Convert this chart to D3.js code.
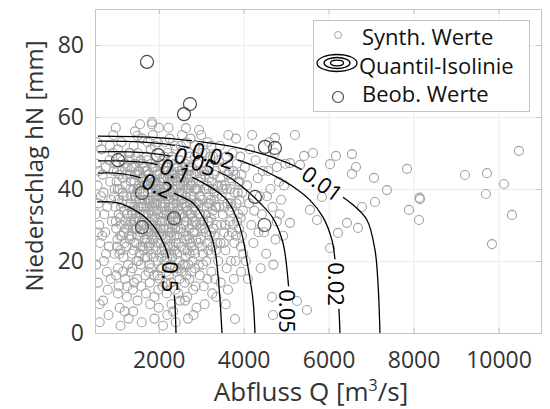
<!DOCTYPE html>
<html>
<head>
<meta charset="utf-8">
<script src="https://cdn.jsdelivr.net/npm/d3@7/dist/d3.min.js"></script>
<style>
  body { margin: 0; background: #fff; }
  text { font-family: "Open Sans", sans-serif; }
</style>
</head>
<body>
<div id="chart"></div>
<script>
// ticks
var xTicks = [2000, 4000, 6000, 8000, 10000];
var yTicks = [0, 20, 40, 60, 80];

// observed events [Q, hN]
var observed = [
  [1724, 75.3], [2736, 63.6], [2595, 60.8], [1041, 48.0], [1983, 49.4],
  [1606, 38.9], [1606, 29.4], [2360, 31.9], [4266, 37.8], [4490, 30.0],
  [4502, 51.7], [4737, 51.4]
];

// synthetic values [Q, hN]
var synth = [
  [540,47],[560,41],[580,36],[600,30],[620,25],[530,19],[570,14],[610,8],[650,51],[680,44],[700,39],[720,33],[740,28],[760,22],[780,17],[800,12],[820,5],[840,48],[860,42],[880,37],[900,31],[550,53],[590,45],[640,38],[670,27],[710,20],[750,46],[790,35],[830,24],[870,15],[690,9],[610,3],[850,52],[520,33],[580,28],
  [920,50],[940,45],[960,40],[980,35],[1000,29],[1020,24],[1040,18],[1060,13],[1080,7],[1100,2],[930,55],[970,47],[1010,42],[1050,37],[1090,32],[1130,27],[1170,21],[1210,15],[1250,10],[1290,4],[950,38],[990,31],[1030,26],[1070,44],[1110,49],[1150,39],[1190,34],[1230,29],[1270,46],[1120,53],[960,22],[1000,16],[1040,11],[1160,43],[1200,47],[1240,24],[1280,19],[1140,36],[1180,28],[1220,41],[1260,33],[1300,50],[1080,40],[1120,30],[1160,17],[1200,6],[1260,13],[1040,51],[990,57],[1100,23],
  [1310,48],[1320,44],[1330,40],[1340,36],[1350,31],[1360,27],[1370,22],[1380,18],[1390,12],[1400,6],[1410,52],[1420,46],[1430,42],[1440,38],[1450,34],[1460,29],[1470,25],[1480,20],[1490,15],[1500,9],[1510,50],[1520,45],[1530,41],[1540,37],[1550,33],[1560,28],[1570,24],[1580,19],[1590,13],[1600,3],[1610,54],[1620,47],[1630,43],[1640,39],[1650,35],[1660,30],[1670,26],[1680,21],[1690,16],[1700,11],[1330,50],[1370,46],[1410,35],[1450,44],[1490,39],[1530,31],[1570,48],[1610,36],[1650,42],[1690,33],[1350,38],[1390,29],[1430,25],[1470,32],[1510,27],[1550,22],[1590,43],[1630,28],[1670,37],[1340,17],[1420,14],[1500,40],[1580,35],[1660,46],[1440,56],[1560,58],[1380,33],[1460,49],[1540,45],[1620,24],
  [1710,49],[1720,45],[1730,41],[1740,37],[1750,33],[1760,28],[1770,24],[1780,19],[1790,14],[1800,8],[1810,51],[1820,47],[1830,43],[1840,39],[1850,35],[1860,30],[1870,26],[1880,21],[1890,16],[1900,4],[1910,52],[1920,46],[1930,42],[1940,38],[1950,34],[1960,29],[1970,25],[1980,20],[1990,12],[2000,7],[2010,50],[2020,44],[2030,40],[2040,36],[2050,32],[2060,27],[2070,23],[2080,18],[2090,13],[2100,2],[1730,48],[1770,44],[1810,40],[1850,46],[1890,42],[1930,36],[1970,45],[2010,38],[2050,43],[2090,35],[1750,39],[1790,34],[1830,30],[1870,37],[1910,32],[1950,27],[1990,41],[2030,31],[2070,39],[1720,29],[1800,25],[1880,34],[1960,44],[2040,29],[1740,53],[1860,55],[1980,53],[2080,48],[1820,22],[1940,23],[2060,21],[1760,17],[1900,10],[2020,15],[1840,58],[2000,57],[1780,36],[1920,40],[2040,47],[1700,42],
  [2110,47],[2120,43],[2130,39],[2140,35],[2150,31],[2160,26],[2170,22],[2180,17],[2190,11],[2200,5],[2210,50],[2220,45],[2230,41],[2240,37],[2250,33],[2260,28],[2270,24],[2280,19],[2290,14],[2300,8],[2310,49],[2320,44],[2330,40],[2340,36],[2350,32],[2360,27],[2370,23],[2380,18],[2390,12],[2400,3],[2410,51],[2420,46],[2430,42],[2440,38],[2450,34],[2460,29],[2470,25],[2480,20],[2490,15],[2500,9],[2130,49],[2170,45],[2210,38],[2250,42],[2290,39],[2330,30],[2370,47],[2410,36],[2450,41],[2490,33],[2150,36],[2190,33],[2230,29],[2270,35],[2310,28],[2350,24],[2390,43],[2430,27],[2470,37],[2120,24],[2200,21],[2280,31],[2360,38],[2440,22],[2140,53],[2260,54],[2380,52],[2480,48],[2160,14],[2240,16],[2320,21],[2420,17],[2460,11],[2340,6],[2230,57],[2180,40],[2300,45],[2400,31],[2500,44],[2110,29],
  [2510,48],[2530,43],[2550,39],[2570,35],[2590,30],[2610,26],[2630,21],[2650,16],[2670,10],[2690,4],[2710,50],[2730,45],[2750,41],[2770,37],[2790,32],[2810,28],[2830,23],[2850,18],[2870,13],[2890,7],[2520,52],[2560,46],[2600,42],[2640,38],[2680,34],[2720,29],[2760,25],[2800,20],[2840,44],[2880,40],[2540,33],[2580,28],[2620,47],[2660,44],[2700,40],[2740,36],[2780,46],[2820,38],[2860,34],[2900,30],[2530,24],[2570,19],[2610,14],[2650,31],[2690,27],[2730,22],[2770,17],[2810,12],[2850,49],[2890,45],[2550,55],[2650,53],[2750,54],[2850,52],[2600,36],[2700,46],[2800,42],[2580,41],[2680,23],[2780,30],[2880,26],[2520,37],[2620,9],[2720,15],[2820,5],[2760,33],[2540,45],[2640,27],[2740,49],[2840,35],
  [2920,47],[2940,42],[2960,38],[2980,33],[3000,29],[3020,24],[3040,19],[3060,13],[3080,8],[3100,50],[3120,45],[3140,41],[3160,36],[3180,31],[3200,27],[3220,22],[3240,17],[3260,11],[3280,49],[3300,44],[3320,39],[3340,35],[3360,30],[3380,25],[3400,20],[2950,51],[3010,45],[3070,40],[3130,35],[3190,46],[3250,42],[3310,33],[3370,38],[2930,36],[2990,26],[3050,31],[3110,28],[3170,23],[3230,37],[3290,29],[3350,45],[2970,16],[3030,50],[3090,44],[3150,53],[3210,49],[3270,34],[3330,15],[3390,41],[3000,55],[3120,20],[3240,52],[3360,10],[3060,35],[3180,40],
  [3420,48],[3450,43],[3480,38],[3510,33],[3540,28],[3570,23],[3600,18],[3630,12],[3660,45],[3690,40],[3720,35],[3750,30],[3780,25],[3810,20],[3840,47],[3870,42],[3900,37],[3930,32],[3960,27],[3990,22],[3440,52],[3500,46],[3560,41],[3620,36],[3680,31],[3740,50],[3800,44],[3860,39],[3920,49],[3980,34],[3470,30],[3530,25],[3590,49],[3650,27],[3710,43],[3770,15],[3830,36],[3890,29],[3950,44],[3460,14],[3580,8],[3700,20],[3820,54],[3940,17],[3640,55],
  [4030,46],[4080,41],[4130,36],[4180,30],[4230,25],[4280,48],[4330,43],[4380,38],[4430,33],[4480,28],[4530,22],[4580,45],[4630,40],[4680,35],[4730,50],[4780,31],[4830,42],[4880,37],[4930,27],[4980,47],[4050,20],[4150,51],[4250,34],[4350,28],[4450,45],[4550,38],[4650,48],[4750,26],[4850,33],[4950,41],[4100,15],[4400,18],[4700,19],[4200,55],[4600,53],
  [5208,55],[4737,54.2],[5420,49.2],[5632,50],[6173,49.2],[6032,46.9],[6550,49.7],[6644,46.1],[6550,44.2],[7068,43.1],[7374,39.7],[7091,36.4],[6785,35],[5844,37.8],[5326,46.7],[5090,47.2],[4784,46.1],[6432,30.6],[6691,29.2],[6220,27.8],[6032,23.6],[5726,31.4],[5561,34.2],[5090,30.6],[5255,8.9],[5490,6.4],[4690,5],[3796,3.9],[4667,10],
  [7845,45.6],[7892,34.2],[8151,37.2],[8140,37.6],[8127,31.4],[9210,43.9],[9728,44.4],[9704,38.6],[10128,41.4],[10316,32.8],[9846,24.7],[10481,50.6],
  [1842,58.6],[2642,56.9],[2950,56.4],[1500,54.8]
];

// more synthetic values in the dense core [Q, hN]
var synthCore = [
  [1015,45],[1055,33],[1095,27],[1135,45],[1175,38],[1215,31],[1255,38],[1295,27],[1035,40],[1075,22],[1115,35],[1155,48],[1195,25],[1235,44],[1275,30],
  [1315,35],[1345,42],[1375,30],[1405,40],[1435,31],[1465,37],[1495,44],[1525,35],[1555,40],[1585,30],[1615,42],[1645,33],[1675,41],[1695,25],[1325,26],[1365,34],[1405,23],[1445,47],[1485,29],[1525,20],[1565,37],[1605,31],[1645,23],[1685,45],
  [1715,35],[1745,44],[1775,31],[1805,37],[1835,27],[1865,41],[1895,36],[1925,29],[1955,40],[1985,33],[2015,42],[2045,39],[2075,31],[2095,43],[1725,26],[1765,40],[1805,29],[1845,33],[1885,46],[1925,24],[1965,37],[2005,28],[2045,25],[2085,38],[1735,21],[1815,18],[1895,28],[1975,16],[2055,18],
  [2115,40],[2145,45],[2175,34],[2205,43],[2235,35],[2265,39],[2295,33],[2325,42],[2355,37],[2385,29],[2415,40],[2445,31],[2475,43],[2125,33],[2165,38],[2205,27],[2245,44],[2285,27],[2325,35],[2365,44],[2405,25],[2445,46],[2485,39],[2135,20],[2215,24],[2295,22],[2375,33],[2455,18],[2195,46],[2335,48],
  [2515,41],[2545,37],[2575,44],[2605,32],[2635,40],[2665,35],[2695,43],[2725,33],[2755,38],[2785,41],[2815,35],[2845,40],[2875,31],[2525,29],[2565,33],[2605,23],[2645,35],[2685,41],[2725,26],[2765,44],[2805,31],[2845,28],[2885,36],[2535,17],[2615,19],[2695,19],[2775,24],[2855,22],
  [2915,40],[2955,33],[2995,43],[3035,37],[3075,29],[3115,40],[3155,31],[3195,36],[3235,28],[3275,40],[3315,27],[3355,35],[2935,25],[2985,38],[3025,30],[3065,45],[3105,33],[3145,25],[3185,43],[3225,32],[3265,24],[3305,37],[3345,23],[2945,19],[3045,22],[3145,15],
  [3425,35],[3485,41],[3545,35],[3605,40],[3665,34],[3725,28],[3785,39],[3845,31],[3905,42],[3965,39],[3455,25],[3515,40],[3575,30],[3635,44],[3695,36],[3755,45],[3815,27],[3875,33],[3935,24]
];

// quantile isolines [Q, hN]
var iso050 = [[547,36.4],[853,36.4],[1136,35.8],[1395,34.4],[1677,32.2],[1912,29.2],[2077,25.8],[2195,22.5],[2266,18.6],[2313,14.7],[2360,11.1],[2383,7.8],[2407,0]];
var iso020 = [[571,44.4],[971,44.4],[1442,43.6],[1795,42.2],[2148,40],[2501,38.1],[2807,36.1],[3042,32.2],[3207,28.1],[3325,23.1],[3395,16.1],[3443,9.2],[3490,0]];
var iso010 = [[571,47.8],[1089,47.8],[1795,47.2],[2266,45.8],[2736,43.6],[3207,40.6],[3607,36.9],[3913,29.4],[4101,18.3],[4219,9.2],[4266,0]];
var iso005 = [[571,50.3],[1324,50.3],[2148,49.4],[2736,47.8],[3207,45.8],[3607,43.6],[4031,40],[4384,36.1],[4690,31.9],[4926,25],[5044,14.7],[5091,6.4],[5114,0]];
var iso002 = [[571,53.3],[1559,53.1],[2619,51.7],[3325,49.7],[4078,47.2],[4784,43.3],[5208,40.3],[5561,36.9],[5867,32.2],[6079,25.8],[6150,20.3],[6197,13.3],[6244,6.4],[6267,0]];
var iso001 = [[571,54.7],[1795,54.4],[2854,53.3],[3678,51.9],[4266,50.3],[4737,48.6],[5255,46.1],[5914,41.4],[6267,38.3],[6573,35.6],[6903,31.4],[7091,23.1],[7162,13.9],[7209,0]];
var isolines = [iso050, iso020, iso010, iso005, iso002, iso001];

// contour labels: text, Q, hN, angle
var isoLabels = [
  ["0.5", 2266, 15.6, 90], ["0.2", 1960, 40.8, 25], ["0.1", 2383, 45, 25],
  ["0.05", 2854, 47.5, 22], ["0.02", 3278, 49.2, 18], ["0.01", 5844, 41.4, 36],
  ["0.05", 5020, 6.1, 90], ["0.02", 6173, 13.6, 90]
];

var legendItems = ["Synth. Werte", "Quantil-Isolinie", "Beob. Werte"];

var width = 550, height = 409;
var margin = { top: 9, right: 9, bottom: 76, left: 95 };
var plotW = width - margin.left - margin.right,
    plotH = height - margin.top - margin.bottom;

var svg = d3.select("#chart").append("svg")
    .attr("width", width)
    .attr("height", height);

var x = d3.scaleLinear().domain([500, 11000]).range([margin.left, margin.left + plotW]);
var y = d3.scaleLinear().domain([0, 90]).range([margin.top + plotH, margin.top]);

var defs = svg.append("defs");
defs.append("clipPath").attr("id", "plotClip")
  .append("rect")
  .attr("x", margin.left).attr("y", margin.top)
  .attr("width", plotW).attr("height", plotH);

// grid
svg.append("g")
  .attr("transform", "translate(0," + (margin.top + plotH) + ")")
  .call(d3.axisBottom(x).tickValues(xTicks).tickSize(-plotH).tickFormat(""))
  .call(g => g.select(".domain").remove())
  .selectAll("line").attr("stroke", "#ececec");
svg.append("g")
  .attr("transform", "translate(" + margin.left + ",0)")
  .call(d3.axisLeft(y).tickValues(yTicks).tickSize(-plotW).tickFormat(""))
  .call(g => g.select(".domain").remove())
  .selectAll("line").attr("stroke", "#ececec");

var plot = svg.append("g").attr("clip-path", "url(#plotClip)");

// synthetic points
plot.append("g").selectAll("circle")
  .data(synth.concat(synthCore))
  .enter().append("circle")
  .attr("cx", d => x(d[0]))
  .attr("cy", d => y(d[1]))
  .attr("r", 4.5)
  .attr("fill", "none")
  .attr("stroke", "#a3a3a3")
  .attr("stroke-width", 1.1);

// mask to break the isolines under their labels
var mask = defs.append("mask").attr("id", "labelGaps")
  .attr("maskUnits", "userSpaceOnUse")
  .attr("x", 0).attr("y", 0).attr("width", width).attr("height", height);
mask.append("rect").attr("x", 0).attr("y", 0).attr("width", width).attr("height", height).attr("fill", "#fff");

var labelG = svg.append("g");
isoLabels.forEach(function (l) {
  var t = labelG.append("text")
    .attr("transform", "translate(" + x(l[1]) + "," + y(l[2]) + ") rotate(" + l[3] + ")")
    .attr("text-anchor", "middle")
    .attr("dy", "0.35em")
    .style("font-size", "22px")
    .attr("fill", "#000")
    .text(l[0]);
  var w = t.node().getComputedTextLength() + 6;
  mask.append("rect")
    .attr("transform", "translate(" + x(l[1]) + "," + y(l[2]) + ") rotate(" + l[3] + ")")
    .attr("x", -w / 2).attr("y", -9)
    .attr("width", w).attr("height", 18)
    .attr("fill", "#000");
});

var line = d3.line()
  .x(d => x(d[0]))
  .y(d => y(d[1]))
  .curve(d3.curveCatmullRom.alpha(0.5));

plot.append("g").attr("mask", "url(#labelGaps)")
  .selectAll("path")
  .data(isolines)
  .enter().append("path")
  .attr("d", line)
  .attr("fill", "none")
  .attr("stroke", "#000")
  .attr("stroke-width", 1.3);

// observed
plot.append("g").selectAll("circle")
  .data(observed)
  .enter().append("circle")
  .attr("cx", d => x(d[0]))
  .attr("cy", d => y(d[1]))
  .attr("r", 6.5)
  .attr("fill", "none")
  .attr("stroke", "#4a4a4a")
  .attr("stroke-width", 1.2);

labelG.raise();

// axes
var axisColor = "#c4c4c4";
var xAxis = svg.append("g")
  .attr("transform", "translate(0," + (margin.top + plotH) + ")")
  .call(d3.axisBottom(x).tickValues(xTicks).tickFormat(d3.format("d")).tickSizeInner(-5).tickSizeOuter(0).tickPadding(19));
var yAxis = svg.append("g")
  .attr("transform", "translate(" + margin.left + ",0)")
  .call(d3.axisLeft(y).tickValues(yTicks).tickFormat(d3.format("d")).tickSizeInner(-5).tickSizeOuter(0).tickPadding(11));
var xTop = svg.append("g")
  .attr("transform", "translate(0," + margin.top + ")")
  .call(d3.axisTop(x).tickValues(xTicks).tickSizeInner(-5).tickSizeOuter(0).tickFormat(""));
var yRight = svg.append("g")
  .attr("transform", "translate(" + (margin.left + plotW) + ",0)")
  .call(d3.axisRight(y).tickValues(yTicks).tickSizeInner(-5).tickSizeOuter(0).tickFormat(""));

[xAxis, yAxis, xTop, yRight].forEach(function (a) {
  a.select(".domain").attr("stroke", axisColor);
  a.selectAll(".tick line").attr("stroke", axisColor);
  a.selectAll("text")
    .style("font-size", "23px")
    .style("font-family", "'Open Sans', sans-serif")
    .attr("fill", "#333");
});

// axis labels
svg.append("text")
  .attr("x", margin.left + plotW / 2 - 7)
  .attr("y", 401)
  .attr("text-anchor", "middle")
  .style("font-size", "26px")
  .attr("fill", "#333")
  .html("Abfluss Q [m<tspan dy='-10' font-size='16px'>3</tspan><tspan dy='10'>/s]</tspan>");

svg.append("text")
  .attr("transform", "translate(43," + (margin.top + plotH / 2 - 5) + ") rotate(-90)")
  .attr("text-anchor", "middle")
  .style("font-size", "24px")
  .attr("fill", "#333")
  .text("Niederschlag hN [mm]");

// legend
var legend = svg.append("g");
legend.append("rect")
  .attr("x", 313.5).attr("y", 20.5)
  .attr("width", 216).attr("height", 91)
  .attr("fill", "#fff")
  .attr("stroke", "#c4c4c4");

legend.append("circle").attr("cx", 338).attr("cy", 35).attr("r", 3.5)
  .attr("fill", "none").attr("stroke", "#a3a3a3");
[[20, 8.5], [13, 5.5], [6.5, 2.8]].forEach(function (e) {
  legend.append("ellipse").attr("cx", 337).attr("cy", 63)
    .attr("rx", e[0]).attr("ry", e[1])
    .attr("fill", "none").attr("stroke", "#000").attr("stroke-width", 1.3);
});
legend.append("circle").attr("cx", 338).attr("cy", 97).attr("r", 5.5)
  .attr("fill", "none").attr("stroke", "#4a4a4a").attr("stroke-width", 1.2);

legend.selectAll("text.leg")
  .data(legendItems)
  .enter().append("text")
  .attr("class", "leg")
  .attr("x", (d, i) => i == 1 ? 359 : 362)
  .attr("y", (d, i) => [45, 74, 102][i])
  .style("font-size", "22px")
  .attr("fill", "#111")
  .text(d => d);
</script>
</body>
</html>
